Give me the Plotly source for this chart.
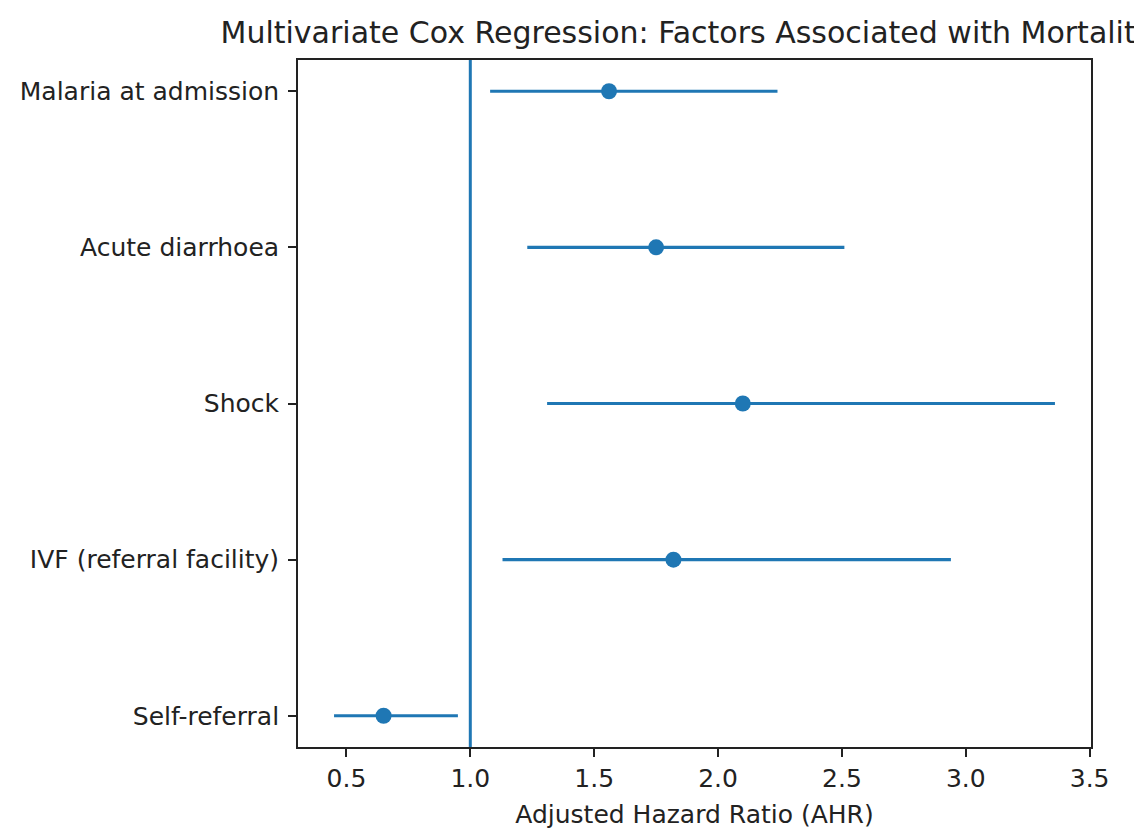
import plotly.graph_objects as go

# Data
factors = ["Malaria at admission", "Acute diarrhoea", "Shock",
           "IVF (referral facility)", "Self-referral"]
ahr = [1.56, 1.75, 2.10, 1.82, 0.65]
ci_low = [1.08, 1.23, 1.31, 1.13, 0.45]
ci_high = [2.24, 2.51, 3.36, 2.94, 0.95]
reference_value = 1.0
x_ticks = [0.5, 1.0, 1.5, 2.0, 2.5, 3.0, 3.5]

blue = "#1f77b4"
ink = "#222222"
font_family = "DejaVu Sans"

err_plus = [h - m for h, m in zip(ci_high, ahr)]
err_minus = [m - l for m, l in zip(ahr, ci_low)]

fig = go.Figure()
fig.add_trace(go.Scatter(
    x=ahr, y=factors, mode="markers",
    marker=dict(color=blue, size=16),
    error_x=dict(type="data", symmetric=False, array=err_plus,
                 arrayminus=err_minus, color=blue, thickness=3.2, width=0),
    showlegend=False,
))

fig.add_shape(type="line", xref="x", yref="paper",
              x0=reference_value, x1=reference_value, y0=0, y1=1,
              line=dict(color=blue, width=3), layer="below")

lo = min(ci_low)
hi = max(ci_high)
pad = 0.05 * (hi - lo)

W, H = 1142, 828
L, R, T, B = 275, 59, 52, 80

fig.update_layout(
    width=W, height=H,
    margin=dict(l=L, r=R, t=T, b=B),
    paper_bgcolor="white", plot_bgcolor="white",
    font=dict(family=font_family, size=25, color=ink),
    title=dict(text="Multivariate Cox Regression: Factors Associated with Mortality",
               x=(L + (W - R)) / 2 / W, xanchor="center", xref="container",
               y=1 - 24 / H, yref="container", yanchor="middle",
               font=dict(family=font_family, size=30, color=ink)),
    xaxis=dict(
        range=[lo - pad, hi + pad],
        tickvals=x_ticks, ticktext=[f"{v:.1f}" for v in x_ticks],
        ticks="outside", ticklen=8, tickwidth=1.8, tickcolor=ink,
        showline=True, linecolor=ink, linewidth=1.8, mirror=True,
        showgrid=False, zeroline=False,
        title=dict(text="Adjusted Hazard Ratio (AHR)", standoff=14,
                   font=dict(family=font_family, size=25, color=ink)),
        tickfont=dict(family=font_family, size=25, color=ink),
    ),
    yaxis=dict(
        type="category", categoryorder="array", categoryarray=factors,
        range=[len(factors) - 1 + 0.2, -0.2],
        ticks="outside", ticklen=8, tickwidth=1.8, tickcolor=ink,
        showline=True, linecolor=ink, linewidth=1.8, mirror=True,
        showgrid=False, zeroline=False,
        tickfont=dict(family=font_family, size=25, color=ink),
        ticklabelstandoff=4,
    ),
)

fig.write_html("out.html")
